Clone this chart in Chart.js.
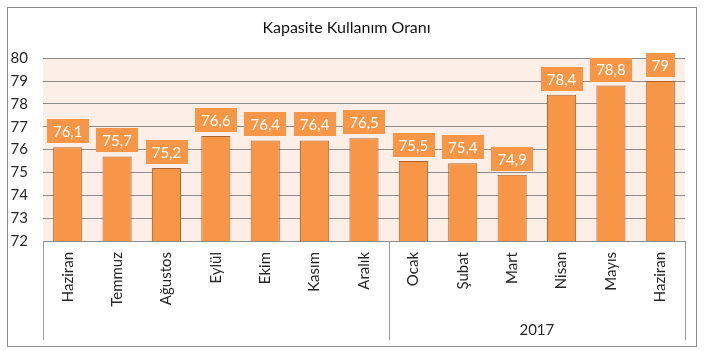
<!DOCTYPE html>
<html>
<head>
<meta charset="utf-8">
<script src="https://cdn.jsdelivr.net/npm/chart.js@4/dist/chart.umd.min.js"></script>
<style>
  html, body { margin: 0; padding: 0; background: #fff; }
  #wrap { width: 705px; height: 351px; }
</style>
</head>
<body>
<div id="wrap"><canvas id="c" width="705" height="351"></canvas></div>
<script>
const title = 'Kapasite Kullanım Oranı';
const categories = ['Haziran','Temmuz','Ağustos','Eylül','Ekim','Kasım','Aralık','Ocak','Şubat','Mart','Nisan','Mayıs','Haziran'];
const values = [76.1, 75.7, 75.2, 76.6, 76.4, 76.4, 76.5, 75.5, 75.4, 74.9, 78.4, 78.8, 79];
const groupLabels = ['', '2017'];
const groupSizes = [7, 6];
const yMin = 72, yMax = 80, yStep = 1;

const FONT = 'Lato, "Open Sans", sans-serif';
const ORANGE = '#F79646';

const fmt = v => String(v).replace('.', ',');

const decor = {
  id: 'decor',
  beforeDraw(chart) {
    const ctx = chart.ctx, a = chart.chartArea;
    ctx.save();
    ctx.fillStyle = '#FDEEE7';
    ctx.fillRect(a.left, a.top, a.right - a.left, a.bottom - a.top);
    ctx.strokeStyle = '#8C8C8C';
    ctx.lineWidth = 1;
    ctx.strokeRect(7.5, 7.5, 689, 339);
    ctx.restore();
  },
  afterDatasetsDraw(chart) {
    const ctx = chart.ctx;
    const meta = chart.getDatasetMeta(0);
    ctx.save();
    ctx.font = '15px ' + FONT;
    ctx.textAlign = 'center';
    ctx.textBaseline = 'middle';
    meta.data.forEach((bar, i) => {
      const txt = fmt(values[i]);
      const w = ctx.measureText(txt).width + 12;
      const h = 24;
      const bottom = bar.y - 4;
      ctx.fillStyle = ORANGE;
      ctx.fillRect(Math.round(bar.x - w / 2), Math.round(bottom - h), Math.round(w), h);
      ctx.fillStyle = '#fff';
      ctx.fillText(txt, bar.x, bottom - h / 2 + 1);
    });
    ctx.restore();
  },
  afterDraw(chart) {
    const ctx = chart.ctx, a = chart.chartArea;
    const xs = chart.scales.x;
    const lineBottom = 340;
    ctx.save();
    ctx.strokeStyle = '#9A9A9A';
    ctx.lineWidth = 1;
    let idx = 0;
    const bounds = [a.left];
    groupSizes.forEach(s => { idx += s; bounds.push(idx >= categories.length ? a.right : (xs.getPixelForValue(idx - 1) + xs.getPixelForValue(idx)) / 2); });
    bounds.forEach(x => {
      const px = Math.round(x) + 0.5;
      ctx.beginPath();
      ctx.moveTo(px, a.bottom);
      ctx.lineTo(px, lineBottom);
      ctx.stroke();
    });
    ctx.fillStyle = '#262626';
    ctx.font = '15px ' + FONT;
    ctx.textAlign = 'center';
    ctx.textBaseline = 'middle';
    groupLabels.forEach((g, i) => {
      if (g) ctx.fillText(g, (bounds[i] + bounds[i + 1]) / 2, 330);
    });
    ctx.restore();
  }
};

new Chart(document.getElementById('c'), {
  type: 'bar',
  data: {
    labels: categories,
    datasets: [{
      data: values,
      backgroundColor: ORANGE,
      borderColor: '#B0642A',
      borderWidth: 1,
      barPercentage: 0.59,
      categoryPercentage: 1
    }]
  },
  options: {
    responsive: false,
    animation: false,
    layout: { padding: { left: 8, right: 20, top: 8, bottom: 10 } },
    plugins: {
      legend: { display: false },
      tooltip: { enabled: false },
      title: {
        display: true,
        text: title,
        color: '#111',
        font: { family: FONT, size: 16, weight: 'normal' },
        padding: { top: 10, bottom: 21 }
      }
    },
    scales: {
      x: {
        grid: { display: false, drawTicks: false },
        border: { display: true, color: '#8C8C8C' },
        ticks: {
          autoSkip: false, minRotation: 90, maxRotation: 90, padding: 11,
          color: '#262626', font: { family: FONT, size: 15 }
        },
        afterFit(scale) { scale.height = 100; }
      },
      y: {
        min: yMin, max: yMax,
        grid: { color: '#8C8C8C', drawTicks: false },
        border: { display: false },
        ticks: {
          stepSize: yStep, padding: 15,
          color: '#262626', font: { family: FONT, size: 15 }
        },
        afterFit(scale) { scale.width = 35; }
      }
    }
  },
  plugins: [decor]
});
</script>
</body>
</html>
